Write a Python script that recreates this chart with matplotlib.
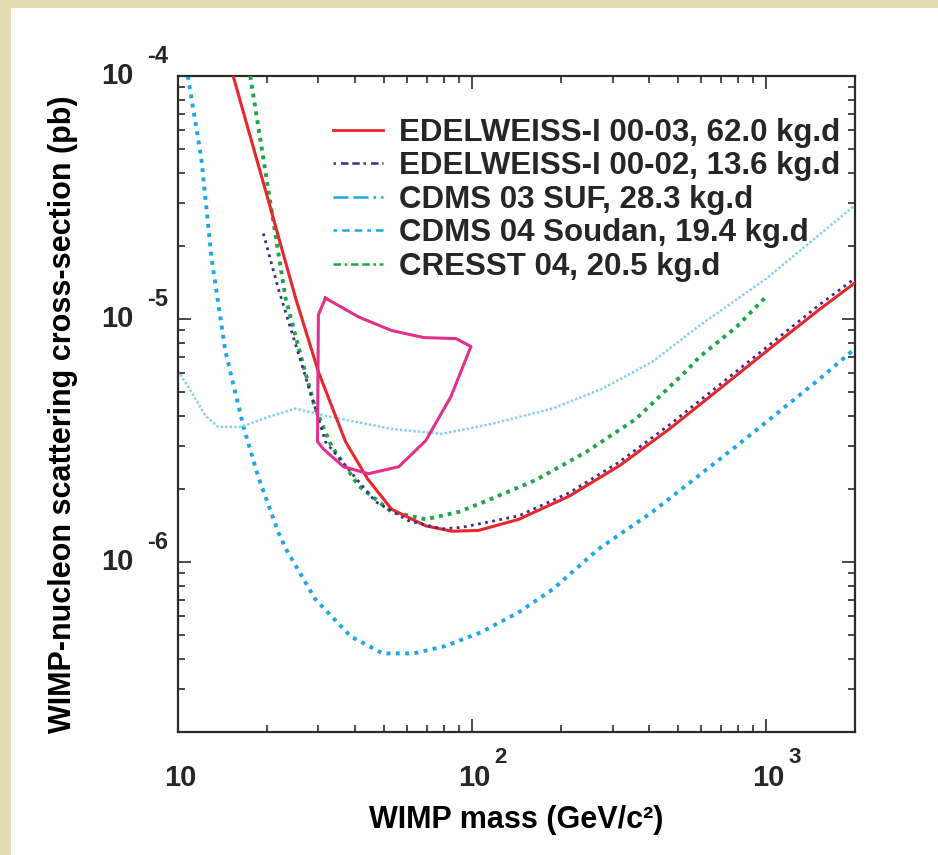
import matplotlib.pyplot as plt
import matplotlib.ticker as ticker
from matplotlib.lines import Line2D
from matplotlib.patches import Rectangle

plt.rcParams['font.family'] = ['Liberation Sans', 'DejaVu Sans']
plt.rcParams['font.weight'] = 'bold'
plt.rcParams['text.color'] = '#262626'

# exclusion limits, WIMP mass in GeV/c^2 and cross-section in pb
edw_0003_mass = [15.4, 20.3, 25.1, 30.0, 37.1, 44.1, 53.2, 69.5, 85.3, 105, 144,
                 214, 316, 468, 694, 1027, 1521, 2000]
edw_0003_xs = [1.0e-4, 3.06e-5, 1.22e-5, 6.07e-6, 3.13e-6, 2.20e-6, 1.65e-6, 1.41e-6,
               1.34e-6, 1.35e-6, 1.50e-6, 1.87e-6, 2.49e-6, 3.53e-6, 5.17e-6, 7.56e-6,
               1.10e-5, 1.41e-5]

edw_0002_mass = [19.5, 21.9, 26.3, 29.3, 31.7, 37.1, 47.0, 60.8, 78.8, 92.2, 144,
                 214, 316, 468, 694, 1027, 1521, 2000]
edw_0002_xs = [2.25e-5, 1.34e-5, 6.55e-6, 4.28e-6, 3.13e-6, 2.49e-6, 1.77e-6, 1.48e-6,
               1.37e-6, 1.39e-6, 1.55e-6, 1.93e-6, 2.58e-6, 3.67e-6, 5.37e-6, 7.85e-6,
               1.15e-5, 1.47e-5]

cdms_suf_mass = [10.0, 11.1, 12.4, 13.7, 16.4, 20.3, 25.1, 31.7, 53.2, 78.8, 117,
                 187, 277, 410, 593, 1000, 2000]
cdms_suf_xs = [6.13e-6, 5.02e-6, 4.00e-6, 3.60e-6, 3.60e-6, 3.96e-6, 4.28e-6, 4.00e-6,
               3.53e-6, 3.37e-6, 3.71e-6, 4.28e-6, 5.17e-6, 6.68e-6, 9.40e-6, 1.47e-5,
               2.94e-5]

cdms_soudan_mass = [10.8, 12.0, 13.0, 14.5, 16.7, 18.7, 21.9, 23.3, 29.3, 38.6, 49.6,
                    63.3, 80.7, 107, 144, 188, 268, 410, 793, 1521, 2000]
cdms_soudan_xs = [1.0e-4, 4.59e-5, 1.78e-5, 7.34e-6, 3.60e-6, 2.26e-6, 1.33e-6, 1.13e-6,
                  7.03e-7, 4.95e-7, 4.21e-7, 4.21e-7, 4.51e-7, 5.14e-7, 6.22e-7, 7.74e-7,
                  1.13e-6, 1.61e-6, 3.01e-6, 5.69e-6, 7.56e-6]

cresst_mass = [17.6, 23.2, 26.3, 29.3, 33.2, 41.1, 53.2, 69.5, 90.1, 111, 165, 244,
               361, 535, 593, 793, 1000]
cresst_xs = [1.0e-4, 1.22e-5, 6.87e-6, 4.28e-6, 3.01e-6, 2.06e-6, 1.61e-6, 1.50e-6,
             1.61e-6, 1.78e-6, 2.18e-6, 2.84e-6, 3.89e-6, 6.13e-6, 7.00e-6, 9.31e-6, 1.24e-5]

# DAMA allowed region (closed contour)
dama_mass = [31.7, 30.0, 29.8, 31.2, 36.5, 44.4, 56.3, 69.5, 84.6, 99.0, 88.0, 68.4,
             53.2, 41.1, 31.7]
dama_xs = [1.22e-5, 1.04e-5, 3.13e-6, 2.92e-6, 2.47e-6, 2.31e-6, 2.47e-6, 3.16e-6,
           4.79e-6, 7.71e-6, 8.31e-6, 8.39e-6, 8.97e-6, 1.02e-5, 1.22e-5]

labels = ['EDELWEISS-I 00-03, 62.0 kg.d',
          'EDELWEISS-I 00-02, 13.6 kg.d',
          'CDMS 03 SUF, 28.3 kg.d',
          'CDMS 04 Soudan, 19.4 kg.d',
          'CRESST 04, 20.5 kg.d']

x_decades = [10, 100, 1000]
x_exps = ['', '2', '3']
y_decades = [1e-4, 1e-5, 1e-6]
y_exps = ['-4', '-5', '-6']

red = '#e8262c'
purple = '#3b2e8f'
light_blue = '#8ccff2'
blue = '#1ea7e8'
green = '#1fa64b'
pink = '#e2308c'
ink = '#2b2b2b'

fig = plt.figure(figsize=(9.38, 8.55), dpi=100, facecolor='#e4dcb2')
fig.patches.append(Rectangle((11 / 938, 0), 1, 847 / 855, transform=fig.transFigure,
                             facecolor='white', edgecolor='none', zorder=-5))
ax = fig.add_axes([178 / 938, 123 / 855, 677 / 938, 656 / 855], zorder=2)
ax.set_xscale('log')
ax.set_yscale('log')

ax.plot(cdms_soudan_mass, cdms_soudan_xs, color=blue, lw=2.8, ls=(0, (1, 1.4)), zorder=2)
ax.plot(cdms_suf_mass, cdms_suf_xs, color=light_blue, lw=1.8, ls=(0, (1, 0.8)), zorder=2)
ax.plot(cresst_mass, cresst_xs, color=green, lw=2.8, ls=(0, (1, 1.3)), zorder=3)
ax.plot(edw_0003_mass, edw_0003_xs, color=red, lw=2.2, zorder=4)
ax.plot(edw_0002_mass, edw_0002_xs, color=purple, lw=2.0, ls=(0, (1, 1.6)), zorder=5)
ax.plot(dama_mass, dama_xs, color=pink, lw=2.2, zorder=6)

ax.set_xlim(10, 2000)
ax.set_ylim(2e-7, 1e-4)

for axis in (ax.xaxis, ax.yaxis):
    axis.set_major_locator(ticker.LogLocator(base=10, numticks=10))
    axis.set_minor_locator(ticker.LogLocator(base=10, subs=(2, 3, 4, 5, 6, 7, 8, 9), numticks=20))
    axis.set_minor_formatter(ticker.NullFormatter())
ax.tick_params(which='both', direction='in', top=True, right=True, color=ink,
               labelbottom=False, labelleft=False)
ax.tick_params(which='major', length=9.5, width=1.2)
ax.tick_params(which='minor', length=5, width=1.2)
for sp in ax.spines.values():
    sp.set_linewidth(1.6)
    sp.set_color(ink)

# decade labels drawn as base plus raised exponent
for v, e in zip(y_decades, y_exps):
    ax.annotate('10', xy=(0, v), xycoords=('axes fraction', 'data'), xytext=(-32, 0),
                textcoords='offset points', ha='right', va='center', fontsize=21)
    ax.annotate(e, xy=(0, v), xycoords=('axes fraction', 'data'), xytext=(-22.5, 14),
                textcoords='offset points', ha='left', va='center', fontsize=17)
for v, e in zip(x_decades, x_exps):
    ax.annotate('10', xy=(v, 0), xycoords=('data', 'axes fraction'), xytext=(1.5, -33),
                textcoords='offset points', ha='center', va='center', fontsize=21)
    if e:
        ax.annotate(e, xy=(v, 0), xycoords=('data', 'axes fraction'), xytext=(20, -18),
                    textcoords='offset points', ha='center', va='center', fontsize=16)

ax.set_xlabel('WIMP mass (GeV/c²)', fontsize=22, fontweight='bold')
ax.xaxis.set_label_coords(0.5, -0.112)
ax.set_ylabel('WIMP-nucleon scattering cross-section (pb)', fontsize=22, fontweight='bold')
ax.yaxis.set_label_coords(-0.148, 0.485)

handles = [
    Line2D([], [], color=red, lw=2.0),
    Line2D([], [], color=purple, lw=1.8, ls=(0, (1, 2, 3, 1.5, 3, 1.5))),
    Line2D([], [], color=blue, lw=1.8, ls=(0, (6, 2, 6, 2, 1, 2))),
    Line2D([], [], color=blue, lw=1.8, ls=(0, (1.5, 2, 3, 2, 3, 2))),
    Line2D([], [], color=green, lw=1.8, ls=(0, (3, 1.5, 1, 1.5, 3, 1.5))),
]
ax.legend(handles, labels, loc='upper left', bbox_to_anchor=(0.229, 0.936),
          frameon=False, fontsize=22.5, borderpad=0, borderaxespad=0,
          labelspacing=0.11, handlelength=1.6, handletextpad=0.5)

fig.savefig('out.png', dpi=100, facecolor=fig.get_facecolor())
